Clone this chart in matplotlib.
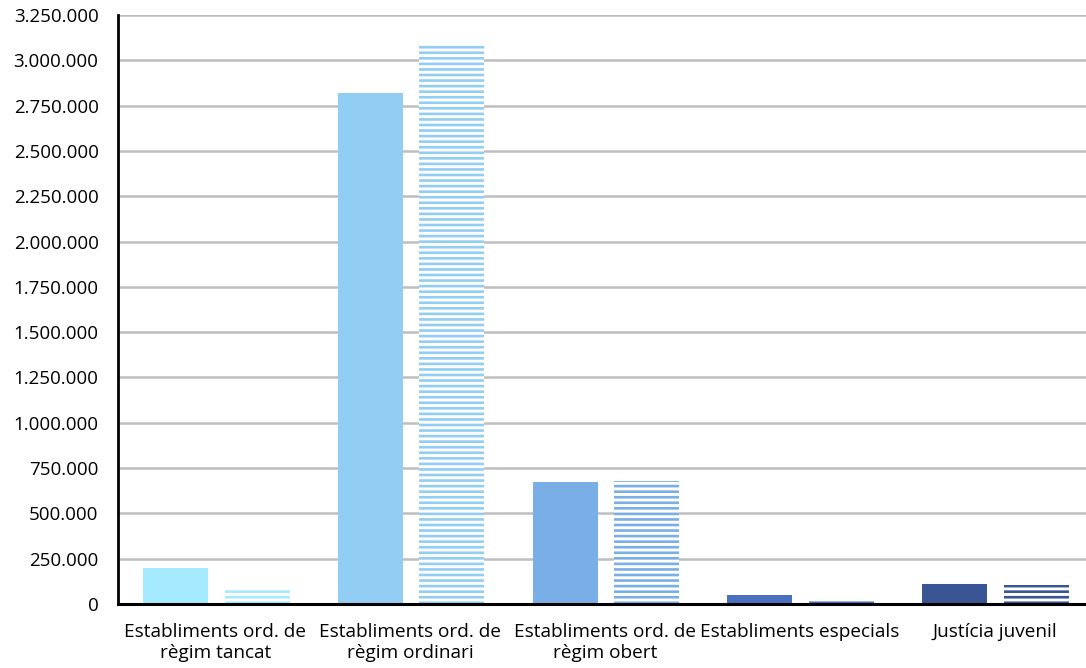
import matplotlib
matplotlib.use("Agg")
import matplotlib.pyplot as plt
import numpy as np

categories = ["Establiments ord. de\nrègim tancat",
              "Establiments ord. de\nrègim ordinari",
              "Establiments ord. de\nrègim obert",
              "Establiments especials",
              "Justícia juvenil"]
series_solid = [198000, 2820000, 673000, 50000, 110000]
series_striped = [88000, 3085000, 679000, 30000, 105000]
colors = ["#A6EAFF", "#92CEF3", "#7AAEE6", "#4A70C0", "#3A5593"]
yticks = list(range(0, 3250001, 250000))
ytick_labels = ["0" if v == 0 else f"{v:,}".replace(",", ".") for v in yticks]

plt.rcParams['font.family'] = ['Open Sans', 'DejaVu Sans']
plt.rcParams['hatch.linewidth'] = 1.9

fig = plt.figure(figsize=(10.86, 6.68), dpi=100)
ax = fig.add_axes([118/1086, 1-604/668, 974/1086, (604-15)/668])

x = np.arange(len(categories))
w = 0.334
ax.bar(x - 0.205, series_solid, width=w, color=colors, linewidth=0, zorder=3)
for xi, v, c in zip(x, series_striped, colors):
    ax.bar(xi + 0.214, v, width=w, facecolor="white", edgecolor=c,
           hatch="---", linewidth=0, zorder=3)

ax.set_xlim(-0.5, len(categories) - 0.5)
ax.set_ylim(0, 3250000)
ax.set_yticks(yticks)
ax.set_yticklabels(ytick_labels, fontsize=13.5)
ax.set_xticks(x)
ax.set_xticklabels(categories, fontsize=13.7, linespacing=1.2)
ax.tick_params(axis='y', length=0, pad=14)
ax.tick_params(axis='x', length=0, pad=14)
ax.yaxis.grid(True, color="#BFBFBF", linewidth=1.8, zorder=0)
ax.set_axisbelow(True)
for s in ["top", "right"]:
    ax.spines[s].set_visible(False)
ax.spines["left"].set_linewidth(2)
ax.spines["left"].set_color("black")
ax.spines["bottom"].set_linewidth(2.2)
ax.spines["bottom"].set_color("black")
ax.spines["bottom"].set_zorder(5)

fig.savefig("out.png", dpi=100)
